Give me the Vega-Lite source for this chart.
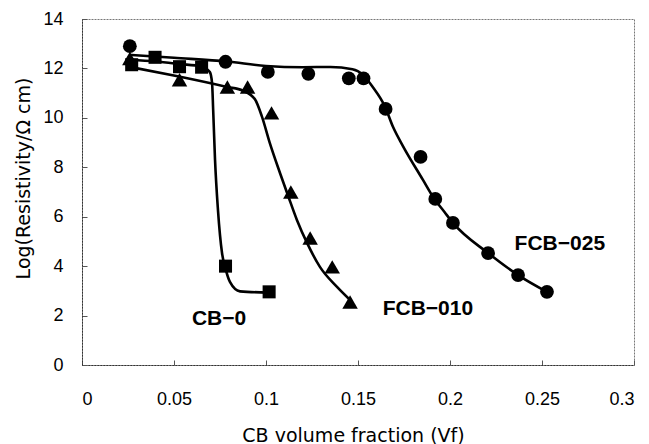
{
  "$schema": "https://vega.github.io/schema/vega-lite/v6.json",
  "width": 552,
  "height": 346,
  "autosize": "none",
  "padding": {"left": 82, "top": 19, "right": 15, "bottom": 79},
  "background": "white",
  "config": {
    "view": {"stroke": "#777", "strokeDash": [2, 1], "strokeWidth": 1},
    "font": "Liberation Sans",
    "axis": {
      "grid": false,
      "domainColor": "#333",
      "domainDash": [2, 1],
      "domainWidth": 1,
      "tickColor": "#555",
      "tickSize": -5,
      "labelFont": "Liberation Sans",
      "labelFontSize": 18,
      "labelColor": "black",
      "titleFont": "DejaVu Sans",
      "titleFontSize": 19,
      "titleFontWeight": "normal",
      "titleColor": "black"
    }
  },
  "datasets": {
    "curves": [
      {"series": "CB-0", "x": 0.026, "y": 12.35},
      {"series": "CB-0", "x": 0.04, "y": 12.28},
      {"series": "CB-0", "x": 0.053, "y": 12.18},
      {"series": "CB-0", "x": 0.065, "y": 12.08},
      {"series": "CB-0", "x": 0.0695, "y": 11.85},
      {"series": "CB-0", "x": 0.0707, "y": 11.4},
      {"series": "CB-0", "x": 0.0713, "y": 10.3},
      {"series": "CB-0", "x": 0.0723, "y": 8.3},
      {"series": "CB-0", "x": 0.0739, "y": 6.27},
      {"series": "CB-0", "x": 0.0761, "y": 4.53},
      {"series": "CB-0", "x": 0.078, "y": 3.9},
      {"series": "CB-0", "x": 0.0804, "y": 3.36},
      {"series": "CB-0", "x": 0.0859, "y": 2.98},
      {"series": "CB-0", "x": 0.101, "y": 2.93},
      {"series": "FCB-010", "x": 0.026, "y": 12.06},
      {"series": "FCB-010", "x": 0.052, "y": 11.68},
      {"series": "FCB-010", "x": 0.0788, "y": 11.25},
      {"series": "FCB-010", "x": 0.0875, "y": 11.1},
      {"series": "FCB-010", "x": 0.094, "y": 10.75},
      {"series": "FCB-010", "x": 0.0978, "y": 10.05},
      {"series": "FCB-010", "x": 0.102, "y": 9.0},
      {"series": "FCB-010", "x": 0.1076, "y": 7.77},
      {"series": "FCB-010", "x": 0.112, "y": 6.85},
      {"series": "FCB-010", "x": 0.1168, "y": 5.87},
      {"series": "FCB-010", "x": 0.1223, "y": 4.94},
      {"series": "FCB-010", "x": 0.1293, "y": 3.97},
      {"series": "FCB-010", "x": 0.1386, "y": 3.16},
      {"series": "FCB-010", "x": 0.1457, "y": 2.63},
      {"series": "FCB-025", "x": 0.026, "y": 12.55},
      {"series": "FCB-025", "x": 0.05, "y": 12.43},
      {"series": "FCB-025", "x": 0.079, "y": 12.28},
      {"series": "FCB-025", "x": 0.1, "y": 12.1},
      {"series": "FCB-025", "x": 0.12, "y": 12.05},
      {"series": "FCB-025", "x": 0.135, "y": 12.06},
      {"series": "FCB-025", "x": 0.147, "y": 11.97},
      {"series": "FCB-025", "x": 0.1527, "y": 11.74},
      {"series": "FCB-025", "x": 0.158, "y": 11.25},
      {"series": "FCB-025", "x": 0.1647, "y": 10.45},
      {"series": "FCB-025", "x": 0.169, "y": 9.64},
      {"series": "FCB-025", "x": 0.1745, "y": 8.85},
      {"series": "FCB-025", "x": 0.1853, "y": 7.49},
      {"series": "FCB-025", "x": 0.1908, "y": 6.8},
      {"series": "FCB-025", "x": 0.197, "y": 6.19},
      {"series": "FCB-025", "x": 0.2016, "y": 5.75},
      {"series": "FCB-025", "x": 0.2207, "y": 4.53},
      {"series": "FCB-025", "x": 0.237, "y": 3.64},
      {"series": "FCB-025", "x": 0.2527, "y": 2.96}
    ],
    "points": [
      {"series": "FCB-025", "x": 0.026, "y": 12.9},
      {"series": "FCB-025", "x": 0.078, "y": 12.27},
      {"series": "FCB-025", "x": 0.101, "y": 11.86},
      {"series": "FCB-025", "x": 0.123, "y": 11.78},
      {"series": "FCB-025", "x": 0.145, "y": 11.6},
      {"series": "FCB-025", "x": 0.153, "y": 11.6},
      {"series": "FCB-025", "x": 0.165, "y": 10.36},
      {"series": "FCB-025", "x": 0.184, "y": 8.42},
      {"series": "FCB-025", "x": 0.192, "y": 6.72},
      {"series": "FCB-025", "x": 0.2016, "y": 5.75},
      {"series": "FCB-025", "x": 0.2207, "y": 4.53},
      {"series": "FCB-025", "x": 0.237, "y": 3.64},
      {"series": "FCB-025", "x": 0.2527, "y": 2.96},
      {"series": "CB-0", "x": 0.027, "y": 12.15},
      {"series": "CB-0", "x": 0.0397, "y": 12.45},
      {"series": "CB-0", "x": 0.053, "y": 12.07},
      {"series": "CB-0", "x": 0.065, "y": 12.05},
      {"series": "CB-0", "x": 0.078, "y": 4.0},
      {"series": "CB-0", "x": 0.1017, "y": 2.96},
      {"series": "FCB-010", "x": 0.026, "y": 12.4},
      {"series": "FCB-010", "x": 0.053, "y": 11.54},
      {"series": "FCB-010", "x": 0.079, "y": 11.25},
      {"series": "FCB-010", "x": 0.09, "y": 11.25},
      {"series": "FCB-010", "x": 0.103, "y": 10.2},
      {"series": "FCB-010", "x": 0.1135, "y": 7.0},
      {"series": "FCB-010", "x": 0.124, "y": 5.14},
      {"series": "FCB-010", "x": 0.136, "y": 3.97},
      {"series": "FCB-010", "x": 0.1457, "y": 2.55}
    ],
    "labels": [
      {"label": "CB−0", "x": 0.0745, "y": 1.86},
      {"label": "FCB−010", "x": 0.188, "y": 2.27},
      {"label": "FCB−025", "x": 0.2597, "y": 4.9}
    ]
  },
  "encoding": {
    "x": {
      "field": "x",
      "type": "quantitative",
      "scale": {"domain": [0, 0.3], "nice": false, "zero": false},
      "axis": {
        "values": [0, 0.05, 0.1, 0.15, 0.2, 0.25, 0.3],
        "format": "~g",
        "labelPadding": 30,
        "title": "CB volume fraction (Vf)",
        "titleX": 271,
        "titleY": 76,
        "titleBaseline": "alphabetic"
      }
    },
    "y": {
      "field": "y",
      "type": "quantitative",
      "scale": {"domain": [0, 14], "nice": false},
      "axis": {
        "values": [0, 2, 4, 6, 8, 10, 12, 14],
        "labelPadding": 24,
        "title": "Log(Resistivity/Ω cm)",
        "titleX": -53,
        "titleY": 159,
        "titleBaseline": "alphabetic"
      }
    }
  },
  "layer": [
    {
      "data": {"name": "curves"},
      "mark": {"type": "line", "interpolate": "monotone", "color": "black", "strokeWidth": 2.6},
      "encoding": {"detail": {"field": "series"}}
    },
    {
      "data": {"name": "points"},
      "transform": [{"filter": "datum.series === 'FCB-025'"}],
      "mark": {"type": "point", "shape": "circle", "filled": true, "color": "black", "opacity": 1, "size": 190},
      "encoding": {}
    },
    {
      "data": {"name": "points"},
      "transform": [{"filter": "datum.series === 'CB-0'"}],
      "mark": {"type": "point", "shape": "square", "filled": true, "color": "black", "opacity": 1, "size": 170},
      "encoding": {}
    },
    {
      "data": {"name": "points"},
      "transform": [{"filter": "datum.series === 'FCB-010'"}],
      "mark": {"type": "point", "shape": "triangle-up", "filled": true, "color": "black", "opacity": 1, "size": 240},
      "encoding": {}
    },
    {
      "data": {"name": "labels"},
      "mark": {"type": "text", "font": "Liberation Sans", "fontSize": 21, "fontWeight": "bold", "color": "black", "align": "center", "baseline": "middle"},
      "encoding": {"text": {"field": "label"}}
    }
  ]
}
